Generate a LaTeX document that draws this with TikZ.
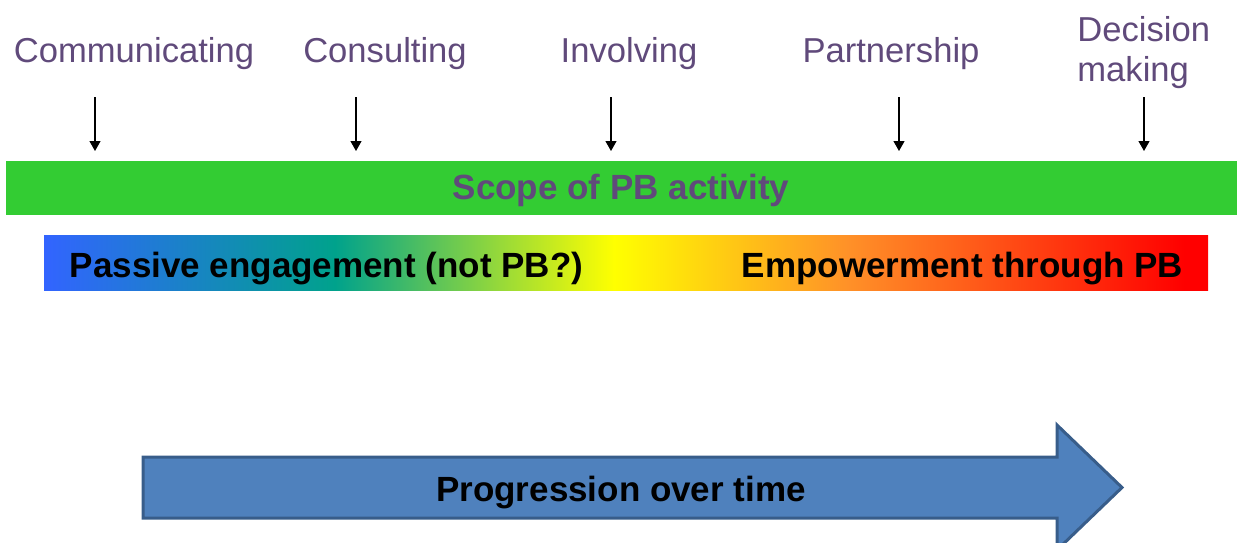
\documentclass[tikz,border=0pt]{standalone}
\usepackage{fontspec}
\setmainfont{Liberation Sans}
\usetikzlibrary{arrows.meta}
\definecolor{lblpurple}{RGB}{96,74,123}
\definecolor{scopegreen}{RGB}{51,204,51}
\definecolor{gblue}{RGB}{50,100,255}
\definecolor{gteal}{RGB}{0,162,140}
\definecolor{gyellow}{RGB}{255,255,0}
\definecolor{gorange}{RGB}{255,145,40}
\definecolor{gred}{RGB}{255,0,0}
\definecolor{arrowfill}{RGB}{79,129,189}
\definecolor{arrowline}{RGB}{56,93,138}
\pgfdeclarehorizontalshading{pbgrad}{100bp}{color(0bp)=(gblue); color(25bp)=(gblue); color(37.5bp)=(gteal); color(49.5bp)=(gyellow); color(59.5bp)=(gorange); color(74bp)=(gred); color(100bp)=(gred)}
\tikzset{
  stagelabel/.style={text=lblpurple, font=\fontsize{17.3}{20}\selectfont, anchor=base, inner sep=0pt},
  boldlabel/.style={font=\bfseries\fontsize{17.5}{21}\selectfont, anchor=base, inner sep=0pt},
  pointer/.style={draw=black, line width=0.6pt, -{Triangle[width=5.5pt,length=5pt]}},
}
\begin{document}
\begin{tikzpicture}[x=0.5pt,y=-0.5pt]
\useasboundingbox (0,0) rectangle (1237,542);
\clip (0,0) rectangle (1237,542);
% stage labels
\node[stagelabel] (comm) at (134,62) {Communicating};
\node[stagelabel] (cons) at (385,62) {Consulting};
\node[stagelabel] (invo) at (629,62) {Involving};
\node[stagelabel] (part) at (891,62) {Partnership};
\node[stagelabel, anchor=base west] (deci1) at (1077,41) {Decision};
\node[stagelabel, anchor=base west] (deci2) at (1077,81) {making};
% scope bar
\fill[scopegreen] (6,161) rectangle (1237,215);
\node[boldlabel, text=lblpurple] (scope) at (621,199) {Scope of PB activity};
% pointer arrows
\coordinate (a1s) at (95,97);   \coordinate (a1e) at (95,151);
\coordinate (a2s) at (356,97);  \coordinate (a2e) at (356,151);
\coordinate (a3s) at (611,97);  \coordinate (a3e) at (611,151);
\coordinate (a4s) at (899,97);  \coordinate (a4e) at (899,151);
\coordinate (a5s) at (1144,97); \coordinate (a5e) at (1144,151);
\draw[pointer] (a1s) -- (a1e);
\draw[pointer] (a2s) -- (a2e);
\draw[pointer] (a3s) -- (a3e);
\draw[pointer] (a4s) -- (a4e);
\draw[pointer] (a5s) -- (a5e);
% gradient bar
\shade[shading=pbgrad] (44,235) rectangle (1208,290);
\node[boldlabel] (passive) at (326.5,277) {Passive engagement (not PB?)};
\node[boldlabel] (empower) at (962.5,277) {Empowerment through PB};
% progression arrow
\draw[fill=arrowfill, draw=arrowline, line width=1.5pt, line join=miter]
  (143,457) -- (1057,457) -- (1057,425) -- (1122,487.5) -- (1057,550) -- (1057,518) -- (143,518) -- cycle;
\node[boldlabel] (prog) at (621,501) {Progression over time};
\end{tikzpicture}
\end{document}
